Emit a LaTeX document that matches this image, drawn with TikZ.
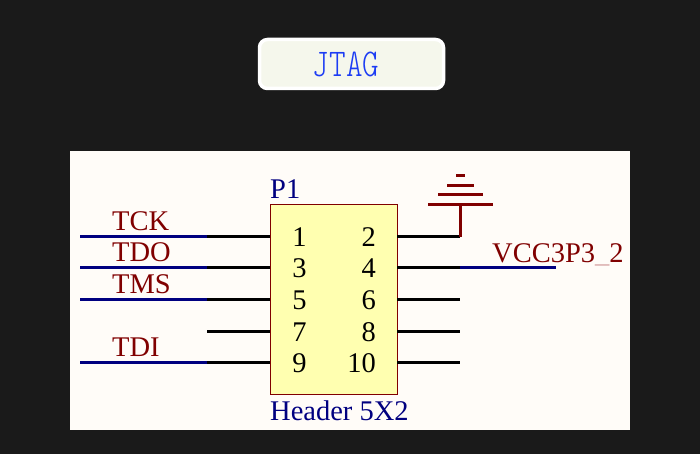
\documentclass[tikz,border=0pt]{standalone}
\usepackage{fontspec}
\setmainfont{Liberation Serif}
\newfontfamily\jtagfont{Latin Modern Mono Light}
\definecolor{bgdark}{HTML}{1A1A1A}
\definecolor{panelc}{HTML}{FFFCF8}
\definecolor{netblue}{HTML}{000080}
\definecolor{darkred}{HTML}{800000}
\definecolor{bodyy}{HTML}{FFFFB0}
\definecolor{btnfill}{HTML}{F5F7EC}
\definecolor{btntext}{HTML}{1C3CF4}
\definecolor{underc}{HTML}{D8A8A8}
\tikzset{
  pinwire/.style={black,line width=3pt},
  netwire/.style={netblue,line width=3pt},
  gndwire/.style={darkred,line width=3pt},
  netlabel/.style={darkred,font=\fontsize{28.5}{28}\selectfont,anchor=base west,inner sep=0pt},
  deslabel/.style={netblue,font=\fontsize{28.5}{28}\selectfont,anchor=base west,inner sep=0pt},
  pinnum/.style={black,font=\fontsize{28.5}{28}\selectfont,anchor=base,inner sep=0pt},
}
\begin{document}
\begin{tikzpicture}[x=1pt,y=-1pt]
\useasboundingbox (0,0) rectangle (700,454);
\fill[bgdark] (0,0) rectangle (700,454);
\fill[panelc] (70,151) rectangle (630,430);
% title button
\node[draw=white,line width=3.5pt,fill=btnfill,rounded corners=8pt,minimum width=184pt,minimum height=49pt,inner sep=0pt] (btn) at (351.5,64) {};
\node[btntext,inner sep=0pt,yscale=1.25,font=\jtagfont\fontsize{31.5}{30}\selectfont] (title) at (346,64) {JTAG};
% connector body
\node[draw=darkred,line width=1pt,fill=bodyy,minimum width=127pt,minimum height=190pt,inner sep=0pt] (body) at (333.5,299) {};
\node[deslabel] (des) at (270,198) {P1};
\node[deslabel] (cmt) at (270,420) {Header 5X2};
% pin ends
\foreach \n/\y in {1/236.5,3/267.5,5/299.5,7/331.5,9/362.5}{
  \coordinate (pin\n b) at (270,\y);
  \coordinate (pin\n) at (207,\y);
  \draw[pinwire] (pin\n b) -- (pin\n);
  \node[pinnum] (num\n) at (299.5,\y+10) {\n};
}
\foreach \n/\y in {2/236.5,4/267.5,6/299.5,8/331.5,10/362.5}{
  \coordinate (pin\n b) at (397,\y);
  \coordinate (pin\n) at (460,\y);
  \draw[pinwire] (pin\n b) -- (pin\n);
  \node[pinnum,anchor=base east] (num\n) at (376,\y+10) {\n};
}
% nets
\foreach \n/\t/\y in {1/TCK/236.5,3/TDO/267.5,5/TMS/299.5,9/TDI/362.5}{
  \coordinate (end\n) at (80,\y);
  \draw[netwire] (end\n) -- (pin\n);
  \node[netlabel] (lab\n) at (112,\y-6) {\t};
}
\coordinate (end4) at (556,267.5);
\draw[netwire] (pin4) -- (end4);
\node[netlabel] (vcc) at (492,262.5) {VCC3P3{\color{underc}\_}2};
% ground
\coordinate (gnd) at (460,204.5);
\draw[gndwire] (pin2) -- (gnd);
\coordinate (g1l) at (428,204.5); \coordinate (g1r) at (493,204.5);
\coordinate (g2l) at (438,194.5); \coordinate (g2r) at (483,194.5);
\coordinate (g3l) at (447,185.5); \coordinate (g3r) at (474,185.5);
\coordinate (g4l) at (456,175.5); \coordinate (g4r) at (465,175.5);
\foreach \i in {1,2,3,4} \draw[gndwire] (g\i l) -- (g\i r);
\end{tikzpicture}
\end{document}
